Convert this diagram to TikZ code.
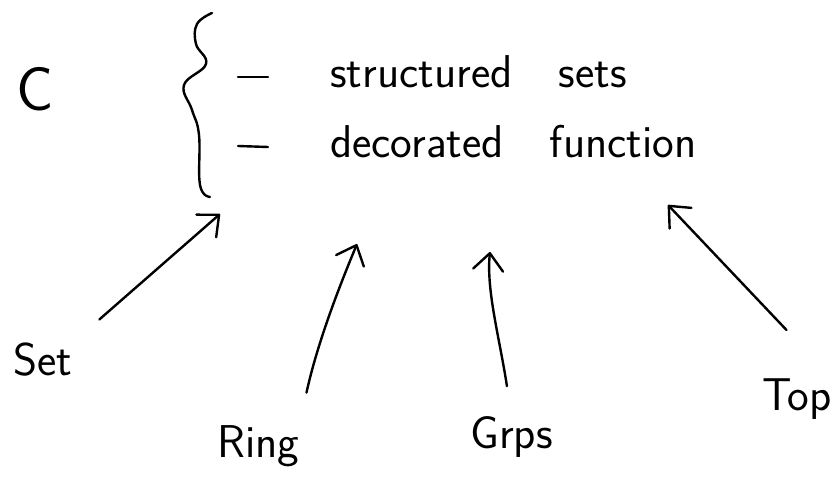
\documentclass[tikz,border=0pt]{standalone}
\usetikzlibrary{arrows.meta}
\definecolor{ink}{HTML}{000000}

\begin{document}
\begin{tikzpicture}[x=1pt,y=-1pt,
  pen/.style={ink, line width=2.4pt, line cap=round, line join=round},
  arr/.style={pen, -{Straight Barb[length=17pt,width=30pt,round]}},
  word/.style={inner sep=0pt, anchor=base west, text=ink, font=\sffamily\fontsize{46}{50}\selectfont}]
\useasboundingbox (0,0) rectangle (833,478);

% the category and its two descriptions
\node[word, font=\sffamily\fontsize{62}{66}\selectfont] (cat) at (16,111) {C};
\draw[pen] plot[smooth, tension=0.7] coordinates {(212,13) (197,24) (196,44) (206,64) (184,85) (192,110) (199,135) (200,185) (210,197)};
\draw[pen] (238,77) -- (268,77);
\draw[pen] (238,146) -- (268,147);
\node[word] (sets) at (330,88) {structured\quad{}sets};
\node[word] (funcs) at (330,158) {decorated\quad{}function};

% examples
\node[word] (set) at (13,376) {Set};
\node[word] (ring) at (217,457) {Ring};
\node[word] (grps) at (470,448) {Grps};
\node[word, anchor=base east] (topsp) at (832,410) {Top};

\coordinate (set-in) at (220,214);
\coordinate (ring-in) at (357,244);
\coordinate (grps-in) at (490,252);
\coordinate (top-in) at (668,205);

\draw[arr, shorten <=36pt] (set.north east) -- (set-in);
\draw[arr, shorten <=33pt] (ring.north east) .. controls (318,340) and (342,280) .. (ring-in);
\draw[arr, shorten <=30pt] (grps.north) .. controls (500,340) and (486,290) .. (grps-in);
\draw[arr, shorten <=66pt] (topsp.north east) -- (top-in);
\end{tikzpicture}
\end{document}
